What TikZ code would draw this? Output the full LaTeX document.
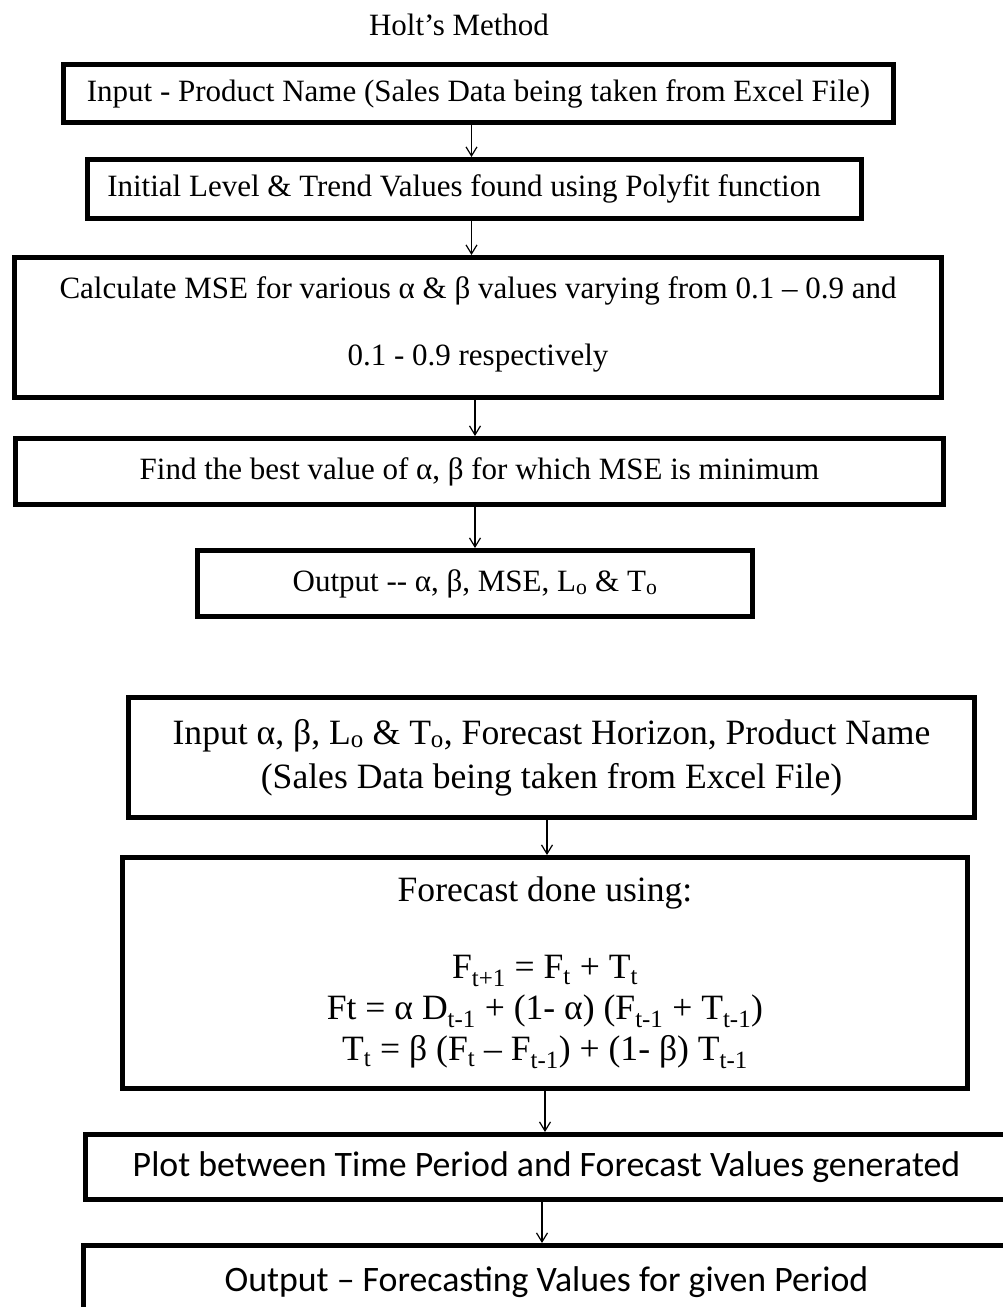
\documentclass[tikz,border=0pt]{standalone}
\usepackage{fontspec}
\setmainfont{Liberation Serif}
\newfontfamily\calib{Carlito}
\usetikzlibrary{arrows.meta}
\begin{document}
\begin{tikzpicture}[x=1pt,y=-1pt,
  box/.style={draw, line width=5pt, inner sep=0pt, align=center},
  serifA/.style={font=\fontsize{31}{37}\selectfont},
  serifB/.style={font=\fontsize{35.6}{41}\selectfont},
  sansA/.style={font=\calib\fontsize{35.8}{42}\selectfont},
  link/.style={line width=1.2pt, -{Straight Barb[length=9pt,width=11pt]}}]
\useasboundingbox (0,0) rectangle (1003,1307);
\clip (0,0) rectangle (1003,1307);

% title
\node[serifA] (title) at (459,25) {Holt’s Method};

% parameter estimation
\node[box, serifA, minimum width=830pt, minimum height=58pt] (inp) at (478.5,93.5)
  {Input - Product Name (Sales Data being taken from Excel File)};
\node[box, serifA, minimum width=774pt, minimum height=59pt] (init) at (474.5,189)
  {Initial Level \& Trend Values found using Polyfit function\hspace*{21pt}};
\node[box, serifA, minimum width=927.5pt, minimum height=140pt] (mse) at (478,327.5)
  {Calculate MSE for various α \& β values varying from 0.1 – 0.9 and\\[30pt]
   0.1 - 0.9 respectively\rule[-12pt]{0pt}{0pt}};
\node[box, serifA, minimum width=928pt, minimum height=66pt] (best) at (479.5,471.5)
  {Find the best value of α, β for which MSE is minimum};
\node[box, serifA, minimum width=555pt, minimum height=66pt] (outp) at (475,583.5)
  {Output -{}- α, β, MSE, L\textsubscript{o} \& T\textsubscript{o}};

% forecasting
\node[box, serifB, minimum width=846pt, minimum height=120pt] (finp) at (551.5,757.5)
  {Input α, β, L\textsubscript{o} \& T\textsubscript{o}, Forecast Horizon, Product Name\\[3pt]
   (Sales Data being taken from Excel File)};
\node[box, serifB, minimum width=845pt, minimum height=231pt] (fcst) at (545,973)
  {Forecast done using:\\[36pt]
   F\textsubscript{t+1} = F\textsubscript{t} + T\textsubscript{t}\\
   Ft = α D\textsubscript{t-1} + (1- α) (F\textsubscript{t-1} + T\textsubscript{t-1})\\
   T\textsubscript{t} = β (F\textsubscript{t} – F\textsubscript{t-1}) + (1- β) T\textsubscript{t-1}};
\node[box, sansA, minimum width=922pt, minimum height=65pt] (plot) at (546.5,1167)
  {Plot between Time Period and Forecast Values generated};
\node[box, sansA, minimum width=926pt, minimum height=74pt] (fout) at (546.5,1282.5)
  {Output – Forecasting Values for given Period};

% connector columns
\coordinate (c1) at (471.5,0);
\coordinate (c2) at (475,0);
\coordinate (c3) at (547,0);
\coordinate (c4) at (545,0);
\coordinate (c5) at (542,0);

\draw[link] (inp.south -| c1) -- (init.north -| c1);
\draw[link] (init.south -| c1) -- (mse.north -| c1);
\draw[link] (mse.south -| c2) -- (best.north -| c2);
\draw[link] (best.south -| c2) -- (outp.north -| c2);
\draw[link] (finp.south -| c3) -- (fcst.north -| c3);
\draw[link] (fcst.south -| c4) -- (plot.north -| c4);
\draw[link] (plot.south -| c5) -- (fout.north -| c5);
\end{tikzpicture}
\end{document}
